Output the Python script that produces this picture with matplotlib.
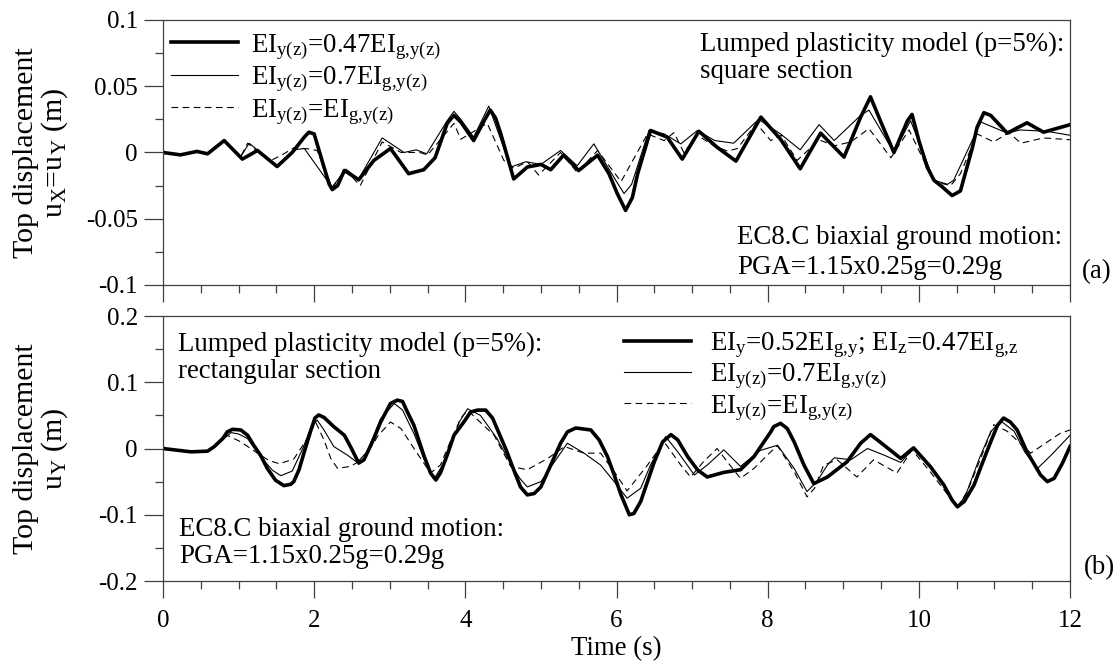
import numpy as np
import matplotlib
matplotlib.use("Agg")
import matplotlib.pyplot as plt
from matplotlib.ticker import MultipleLocator

plt.rcParams["font.family"] = ["Liberation Serif", "DejaVu Serif"]
plt.rcParams["mathtext.fontset"] = "custom"
plt.rcParams["mathtext.rm"] = "Liberation Serif"
plt.rcParams["mathtext.it"] = "Liberation Serif:italic"
plt.rcParams["mathtext.bf"] = "Liberation Serif:bold"

# ---- (a) square section, u_X = u_Y ----
t_a_047 = [0, 0.23, 0.45, 0.59, 0.81, 1.05, 1.25, 1.51, 1.71, 1.87, 1.93, 2.00, 2.13, 2.20,
           2.24, 2.31, 2.40, 2.59, 2.79, 3.01, 3.25, 3.45, 3.60, 3.76, 3.85, 3.94, 4.11,
           4.25, 4.33, 4.40, 4.47, 4.64, 4.82, 5.00, 5.13, 5.30, 5.50, 5.75, 5.90, 6.01,
           6.12, 6.21, 6.28, 6.45, 6.67, 6.87, 7.09, 7.33, 7.58, 7.91, 8.17, 8.43, 8.70,
           9.01, 9.23, 9.36, 9.49, 9.67, 9.85, 9.91, 10.00, 10.11, 10.20, 10.31, 10.44,
           10.55, 10.71, 10.77, 10.86, 10.95, 11.17, 11.43, 11.65, 12.0]
u_a_047 = [0, -0.0018, 0.0008, -0.001, 0.009, -0.005, 0.0015, -0.0106, 0, 0.0116, 0.0153,
           0.014, -0.011, -0.024, -0.028, -0.025, -0.0136, -0.0206, -0.006, 0.003, -0.016,
           -0.013, -0.004, 0.022, 0.028, 0.023, 0.009, 0.024, 0.032, 0.026, 0.014, -0.020,
           -0.011, -0.009, -0.013, -0.002, -0.0136, -0.002, -0.016, -0.031, -0.0437,
           -0.034, -0.016, 0.0166, 0.0116, -0.005, 0.016, 0.004, -0.0065, 0.0267, 0.010,
           -0.0123, 0.0146, -0.0035, 0.0267, 0.042, 0.024, 0, 0.024, 0.0287, 0.009,
           -0.011, -0.021, -0.026, -0.0325, -0.029, 0.004, 0.019, 0.030, 0.028, 0.0146,
           0.0224, 0.0153, 0.021]

t_a_07 = [0, 0.23, 0.45, 0.59, 0.81, 1.03, 1.14, 1.29, 1.51, 1.73, 1.87, 2.17, 2.24, 2.42,
          2.59, 2.90, 3.19, 3.35, 3.49, 3.76, 3.85, 3.94, 4.11, 4.31, 4.60, 4.80, 5.00,
          5.26, 5.48, 5.70, 6.00, 6.10, 6.20, 6.43, 6.63, 6.85, 7.07, 7.30, 7.55, 7.88,
          8.17, 8.43, 8.68, 8.88, 9.23, 9.34, 9.67, 9.89, 10.20, 10.38, 10.46, 10.82,
          11.17, 11.34, 11.69, 12.0]
u_a_07 = [0, -0.0015, 0.0008, -0.001, 0.009, -0.003, 0.007, 0, -0.010, 0.002, 0.003,
          -0.021, -0.026, -0.0126, -0.020, 0.011, 0, 0.002, -0.001, 0.024, 0.031, 0.025,
          0.0116, 0.035, -0.011, -0.007, -0.009, 0.0015, -0.010, 0.0065, -0.022, -0.031,
          -0.024, 0.0166, 0.014, 0.0065, 0.0166, 0.009, 0.007, 0.025, 0.014, 0.002, 0.021,
          0.009, 0.028, 0.032, 0, 0.024, -0.021, -0.024, -0.021, 0.023, 0.0146, 0.017,
          0.016, 0.013]

t_a_10 = [0, 0.23, 0.45, 0.59, 0.81, 1.03, 1.12, 1.29, 1.43, 1.60, 1.73, 1.91, 2.04, 2.24,
          2.41, 2.61, 2.90, 3.15, 3.40, 3.50, 3.85, 3.94, 4.29, 4.51, 4.64, 4.82, 4.97,
          5.26, 5.48, 5.75, 6.06, 6.41, 6.63, 6.76, 6.89, 7.07, 7.29, 7.47, 7.60, 7.85,
          8.04, 8.18, 8.39, 8.68, 8.88, 9.10, 9.34, 9.63, 9.87, 10.20, 10.42, 10.55, 10.77,
          10.99, 11.19, 11.35, 11.65, 12.0]
u_a_10 = [0, -0.0015, 0.0008, -0.001, 0.008, -0.003, 0.007, -0.001, -0.006, -0.001,
          0.0035, 0.0028, 0.0015, -0.027, -0.013, -0.025, 0.008, 0, 0, -0.002, 0.022,
          0.010, 0.022, -0.006, -0.012, -0.007, -0.017, 0, -0.015, 0.0015, -0.022, 0.014,
          0.009, 0.015, 0, 0.013, 0.005, 0.001, 0.003, 0.022, 0.009, 0.013, -0.006,
          0.0096, 0.005, 0.008, 0.018, -0.004, 0.017, -0.022, -0.025, -0.016, 0.014,
          0.008, 0.015, 0.007, 0.011, 0.0096]

# ---- (b) rectangular section, u_Y ----
t_b_052 = [0, 0.37, 0.59, 0.68, 0.79, 0.85, 0.92, 1.03, 1.12, 1.20, 1.29, 1.38, 1.49, 1.60,
           1.69, 1.73, 1.80, 1.87, 1.95, 2.01, 2.06, 2.13, 2.26, 2.40, 2.48, 2.59, 2.66,
           2.79, 2.88, 3.01, 3.10, 3.17, 3.23, 3.32, 3.45, 3.54, 3.61, 3.67, 3.76, 3.85,
           3.98, 4.07, 4.16, 4.27, 4.36, 4.42, 4.54, 4.65, 4.73, 4.82, 4.91, 5.00, 5.13,
           5.26, 5.35, 5.46, 5.66, 5.77, 5.88, 5.97, 6.06, 6.17, 6.23, 6.32, 6.41, 6.50,
           6.61, 6.72, 6.81, 6.94, 7.07, 7.20, 7.42, 7.64, 7.82, 7.95, 8.04, 8.08, 8.17,
           8.26, 8.35, 8.48, 8.61, 8.79, 9.05, 9.23, 9.36, 9.54, 9.76, 9.93, 10.15, 10.33,
           10.44, 10.51, 10.60, 10.73, 10.84, 10.95, 11.04, 11.12, 11.21, 11.30, 11.43,
           11.61, 11.70, 11.79, 11.90, 12.0]
u_b_052 = [0, -0.005, -0.004, 0.003, 0.015, 0.025, 0.029, 0.028, 0.020, 0.005, -0.010,
           -0.030, -0.048, -0.056, -0.054, -0.050, -0.032, -0.005, 0.025, 0.046, 0.0506,
           0.047, 0.033, 0.020, 0.003, -0.022, -0.017, 0.015, 0.040, 0.068, 0.073, 0.071,
           0.056, 0.035, -0.010, -0.037, -0.0476, -0.037, -0.010, 0.020, 0.040, 0.055,
           0.058, 0.058, 0.046, 0.030, -0.002, -0.035, -0.058, -0.070, -0.068, -0.058,
           -0.025, 0.008, 0.025, 0.031, 0.028, 0.013, -0.012, -0.040, -0.070, -0.100,
           -0.098, -0.080, -0.050, -0.020, 0.010, 0.021, 0.013, -0.012, -0.032, -0.043,
           -0.036, -0.032, -0.012, 0.010, 0.025, 0.033, 0.038, 0.030, 0.010, -0.025, -0.053,
           -0.043, -0.020, 0.008, 0.021, 0.005, -0.015, 0.001, -0.027, -0.055, -0.078,
           -0.088, -0.080, -0.055, -0.022, 0.010, 0.035, 0.046, 0.040, 0.028, -0.005,
           -0.040, -0.050, -0.045, -0.022, 0.003]

t_b_07 = [0, 0.37, 0.59, 0.68, 0.79, 0.90, 1.00, 1.12, 1.29, 1.45, 1.56, 1.71, 1.85, 1.95,
          2.04, 2.13, 2.26, 2.44, 2.57, 2.70, 2.88, 3.06, 3.17, 3.33, 3.45, 3.59, 3.70,
          3.80, 3.92, 4.03, 4.20, 4.42, 4.60, 4.72, 4.82, 5.00, 5.15, 5.35, 5.57, 5.79,
          5.97, 6.14, 6.32, 6.45, 6.65, 6.81, 7.03, 7.20, 7.42, 7.64, 7.90, 8.13, 8.35,
          8.52, 8.65, 8.79, 8.88, 9.10, 9.32, 9.54, 9.76, 9.93, 10.10, 10.24, 10.33, 10.51,
          10.62, 10.80, 10.95, 11.08, 11.26, 11.40, 11.57, 11.75, 12.0]
u_b_07 = [0, -0.005, -0.004, 0.003, 0.013, 0.024, 0.022, 0.015, -0.012, -0.033, -0.041,
          -0.034, 0.000, 0.030, 0.043, 0.028, 0.003, -0.010, -0.021, -0.005, 0.045, 0.068,
          0.058, 0.020, -0.015, -0.045, -0.025, 0.000, 0.040, 0.060, 0.050, 0.015, -0.023,
          -0.045, -0.058, -0.050, -0.025, 0.008, -0.007, -0.025, -0.050, -0.075, -0.060,
          -0.025, 0.018, -0.005, -0.040, -0.025, -0.002, -0.027, -0.003, 0.005, -0.030,
          -0.065, -0.050, -0.025, -0.014, -0.017, 0.000, -0.010, -0.021, 0.000, -0.020,
          -0.040, -0.055, -0.089, -0.070, -0.015, 0.025, 0.042, 0.026, -0.005, -0.030,
          -0.010, 0.020]

t_b_10 = [0, 0.37, 0.59, 0.68, 0.85, 1.03, 1.25, 1.40, 1.54, 1.73, 1.91, 2.02, 2.13, 2.22,
          2.31, 2.48, 2.66, 2.85, 3.01, 3.15, 3.35, 3.54, 3.67, 3.80, 3.94, 4.03, 4.12,
          4.38, 4.60, 4.82, 5.09, 5.31, 5.57, 5.79, 5.97, 6.14, 6.41, 6.63, 6.85, 6.98,
          7.15, 7.33, 7.50, 7.64, 7.82, 8.04, 8.13, 8.35, 8.52, 8.62, 8.74, 8.92, 9.18,
          9.40, 9.71, 9.91, 10.15, 10.35, 10.51, 10.64, 10.80, 10.99, 11.17, 11.48, 11.87,
          12.0]
u_b_10 = [0, -0.005, -0.004, 0.003, 0.020, 0.010, -0.007, -0.018, -0.023, -0.016, 0.015,
          0.040, 0.013, -0.015, -0.030, -0.027, -0.015, 0.020, 0.040, 0.030, -0.005,
          -0.037, -0.025, 0.010, 0.046, 0.058, 0.048, 0.020, -0.027, -0.032, -0.015, 0.003,
          -0.007, -0.007, -0.035, -0.064, -0.025, 0.010, -0.025, -0.043, -0.020, 0.000,
          -0.025, -0.045, -0.030, -0.005, 0.004, -0.035, -0.073, -0.060, -0.025, -0.017,
          -0.043, -0.017, -0.037, -0.002, -0.035, -0.065, -0.088, -0.065, -0.020, 0.036,
          0.026, -0.007, 0.023, 0.028]

labels_a = [r"EI$_\mathrm{y(z)}$=0.47EI$_\mathrm{g{,}y(z)}$",
            r"EI$_\mathrm{y(z)}$=0.7EI$_\mathrm{g{,}y(z)}$",
            r"EI$_\mathrm{y(z)}$=EI$_\mathrm{g{,}y(z)}$"]
labels_b = [r"EI$_\mathrm{y}$=0.52EI$_\mathrm{g{,}y}$; EI$_\mathrm{z}$=0.47EI$_\mathrm{g{,}z}$",
            r"EI$_\mathrm{y(z)}$=0.7EI$_\mathrm{g{,}y(z)}$",
            r"EI$_\mathrm{y(z)}$=EI$_\mathrm{g{,}y(z)}$"]

FS = 19.4
TICK_FS = 18
AX_COL = "0.25"

styles = [dict(color="black", lw=2.6),
          dict(color="black", lw=0.8),
          dict(color="black", lw=0.8, dashes=(6, 4))]

fig = plt.figure(figsize=(11.2, 6.66), dpi=100)
ax_a = fig.add_axes([0.1455, 0.5721, 0.8099, 0.3979])
ax_b = fig.add_axes([0.1455, 0.1276, 0.8099, 0.3979])

series_a = [(t_a_047, u_a_047), (t_a_07, u_a_07), (t_a_10, u_a_10)]
series_b = [(t_b_052, u_b_052), (t_b_07, u_b_07), (t_b_10, u_b_10)]

for ax, series, labels in [(ax_a, series_a, labels_a), (ax_b, series_b, labels_b)]:
    for (t, u), lab, st in zip(series, labels, styles):
        ax.plot(t, u, label=lab, solid_joinstyle="round", **st)
    ax.set_xlim(0, 12)
    ax.xaxis.set_major_locator(MultipleLocator(2))
    ax.xaxis.set_minor_locator(MultipleLocator(0.5))
    for s in ax.spines.values():
        s.set_color(AX_COL)
        s.set_linewidth(0.9)
    ax.tick_params(axis="both", which="both", direction="out", colors=AX_COL,
                   labelcolor="black", labelsize=TICK_FS, width=0.9)
    ax.tick_params(axis="y", which="major", length=14, pad=4)
    ax.tick_params(axis="y", which="minor", length=6)
    ax.tick_params(axis="x", which="major", length=12, pad=9)
    ax.tick_params(axis="x", which="minor", length=6)

# top panel
ax_a.set_ylim(-0.1, 0.1)
ax_a.yaxis.set_minor_locator(MultipleLocator(0.025))
ax_a.set_yticks([-0.1, -0.05, 0, 0.05, 0.1])
ax_a.set_yticklabels(["-0.1", "-0.05", "0", "0.05", "0.1"])
ax_a.tick_params(axis="x", labelbottom=False)
ax_a.set_ylabel("Top displacement\n" + r"u$_\mathrm{X}$=u$_\mathrm{Y}$ (m)", fontsize=21.5,
                linespacing=1.0)
ax_a.yaxis.set_label_coords(-0.1025, 0.5)
ax_a.legend(loc="upper left", bbox_to_anchor=(0.009, 0.955), frameon=False, fontsize=FS,
            handlelength=2.5, handletextpad=0.45, labelspacing=0.1, borderpad=0,
            borderaxespad=0)
ax_a.text(0.592, 0.955, "Lumped plasticity model (p=5%):\nsquare section",
          transform=ax_a.transAxes, fontsize=FS, va="top", ha="left", linespacing=1.1)
ax_a.text(0.633, 0.02, "EC8.C biaxial ground motion:\nPGA=1.15x0.25g=0.29g",
          transform=ax_a.transAxes, fontsize=FS, va="bottom", ha="left", linespacing=1.25)
ax_a.text(1.013, 0.05, "(a)", transform=ax_a.transAxes, fontsize=FS, va="center",
          ha="left")

# bottom panel
ax_b.set_ylim(-0.2, 0.2)
ax_b.yaxis.set_minor_locator(MultipleLocator(0.05))
ax_b.set_yticks([-0.2, -0.1, 0, 0.1, 0.2])
ax_b.set_yticklabels(["-0.2", "-0.1", "0", "0.1", "0.2"])
ax_b.set_xticks(np.arange(0, 13, 2))
ax_b.set_xticklabels([str(v) for v in range(0, 13, 2)])
ax_b.set_xlabel("Time (s)", fontsize=FS, labelpad=3)
ax_b.set_ylabel("Top displacement\n" + r"u$_\mathrm{Y}$ (m)", fontsize=21.5,
                linespacing=1.0)
ax_b.yaxis.set_label_coords(-0.1025, 0.5)
ax_b.legend(loc="upper left", bbox_to_anchor=(0.508, 0.945), frameon=False, fontsize=FS,
            handlelength=2.5, handletextpad=0.7, labelspacing=0.05, borderpad=0,
            borderaxespad=0)
ax_b.text(0.0165, 0.94, "Lumped plasticity model (p=5%):\nrectangular section",
          transform=ax_b.transAxes, fontsize=FS, va="top", ha="left", linespacing=1.1)
ax_b.text(0.0175, 0.045, "EC8.C biaxial ground motion:\nPGA=1.15x0.25g=0.29g",
          transform=ax_b.transAxes, fontsize=FS, va="bottom", ha="left", linespacing=1.1)
ax_b.text(1.015, 0.05, "(b)", transform=ax_b.transAxes, fontsize=FS, va="center",
          ha="left")

fig.savefig("out.png", dpi=100)
